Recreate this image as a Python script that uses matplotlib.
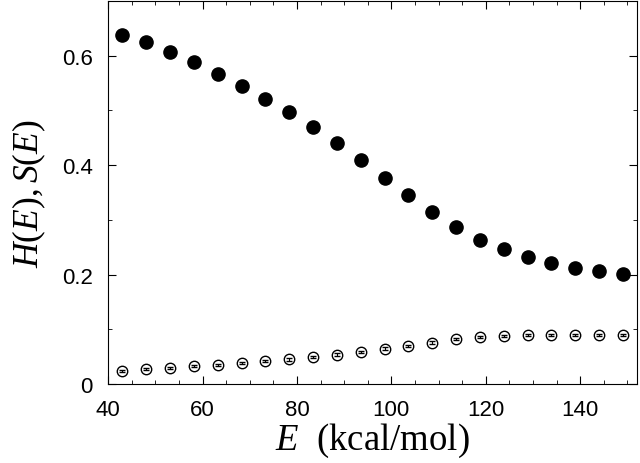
import matplotlib
matplotlib.use("Agg")
import matplotlib.pyplot as plt
from matplotlib.ticker import MultipleLocator, FuncFormatter

# energies (kcal/mol)
energy = [43.0, 48.1, 53.1, 58.2, 63.2, 68.3, 73.3, 78.4, 83.4, 88.5, 93.5,
          98.6, 103.6, 108.7, 113.7, 118.8, 123.8, 128.9, 133.9, 139.0, 144.0, 149.1]
# H(E) filled circles
h_vals = [0.638, 0.624, 0.607, 0.588, 0.567, 0.544, 0.521, 0.497, 0.469, 0.441, 0.409,
          0.377, 0.345, 0.314, 0.287, 0.264, 0.247, 0.232, 0.221, 0.212, 0.207, 0.202]
# S(E) open circles with small error bars
s_vals = [0.024, 0.027, 0.030, 0.033, 0.035, 0.039, 0.042, 0.045, 0.049, 0.054, 0.058,
          0.065, 0.069, 0.076, 0.082, 0.086, 0.088, 0.090, 0.090, 0.089, 0.089, 0.089]
s_err = [0.002] * len(s_vals)

plt.rcParams['mathtext.fontset'] = 'custom'
plt.rcParams['mathtext.rm'] = 'Liberation Serif'
plt.rcParams['mathtext.it'] = 'Liberation Serif:italic'

fig = plt.figure(figsize=(6.4, 4.64), dpi=100)
ax = fig.add_axes([0.169, 0.170, 0.826, 0.826])

ax.plot(energy, h_vals, 'o', color='black', markersize=9.5)
ax.errorbar(energy, s_vals, yerr=s_err, fmt='o', mfc='none', mec='black', ecolor='black',
            markersize=7.5, mew=1.0, elinewidth=0.8, capsize=2.5, capthick=0.8)

ax.set_xlim(40, 152)
ax.set_ylim(0, 0.7)
ax.xaxis.set_major_locator(MultipleLocator(20))
ax.xaxis.set_minor_locator(MultipleLocator(5))
ax.yaxis.set_major_locator(MultipleLocator(0.2))
ax.yaxis.set_minor_locator(MultipleLocator(0.1))
ax.yaxis.set_major_formatter(FuncFormatter(lambda v, p: '0' if abs(v) < 1e-9 else f'{v:.1f}'))
ax.tick_params(which='both', direction='in', top=True, right=True)
ax.tick_params(which='major', length=6, labelsize=16)
ax.tick_params(axis='x', which='major', pad=11)
ax.tick_params(axis='y', which='major', pad=11)
ax.tick_params(which='minor', length=3)
for lab in ax.get_xticklabels() + ax.get_yticklabels():
    lab.set_fontfamily('Liberation Sans')

ax.set_xlabel(r'$E$  (kcal/mol)', fontsize=26.5, fontfamily='Liberation Serif', labelpad=0)
ax.set_ylabel(r'$H(E),S(E)$', fontsize=25.5, fontfamily='Liberation Serif', labelpad=10)

fig.savefig('out.png', dpi=100)
